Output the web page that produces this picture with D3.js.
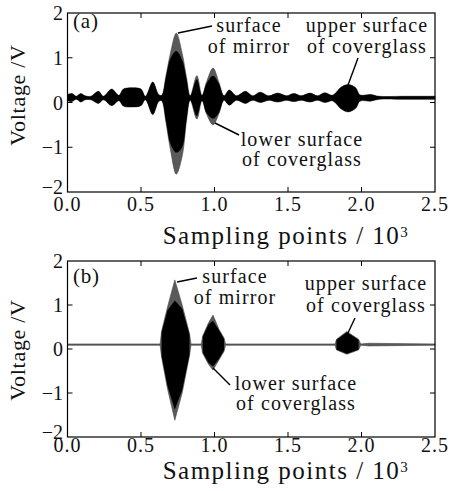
<!DOCTYPE html>
<html>
<head>
<meta charset="utf-8">
<script src="https://d3js.org/d3.v7.min.js"></script>
<style>
  body { margin: 0; background: #fff; }
  svg text { font-family: "Liberation Serif", "DejaVu Serif", serif; fill: #111; }
</style>
</head>
<body>
<div id="chart"></div>
<script>
// envelope of the signal, x in 10^3 sampling points, values in V
const aX      = [0.00, 0.03, 0.06, 0.09, 0.12, 0.16, 0.21, 0.245, 0.30, 0.35, 0.38, 0.44, 0.50, 0.53, 0.58, 0.62, 0.64, 0.67, 0.70, 0.74, 0.78, 0.81, 0.835, 0.88, 0.915, 0.945, 0.99, 1.03, 1.065, 1.10, 1.15, 1.21, 1.26, 1.31, 1.37, 1.43, 1.49, 1.54, 1.59, 1.65, 1.70, 1.75, 1.80, 1.82, 1.86, 1.91, 1.96, 1.99, 2.06, 2.12, 2.30, 2.50];
const aTop    = [0.18, 0.20, 0.14, 0.20, 0.15, 0.14, 0.25, 0.14, 0.30, 0.16, 0.30, 0.33, 0.30, 0.14, 0.46, 0.18, 0.16, 0.60, 1.10, 1.55, 1.10, 0.55, 0.15, 0.60, 0.16, 0.45, 0.77, 0.45, 0.15, 0.28, 0.15, 0.25, 0.15, 0.23, 0.15, 0.21, 0.15, 0.20, 0.15, 0.21, 0.15, 0.22, 0.16, 0.20, 0.34, 0.40, 0.33, 0.17, 0.18, 0.14, 0.14, 0.14];
const aBottom = [0.04, 0.02, 0.07, 0.01, 0.06, 0.06, -0.02, 0.06, -0.07, 0.04, -0.08, -0.10, -0.07, 0.06, -0.27, 0.02, 0.04, -0.45, -1.05, -1.60, -1.20, -0.40, 0.05, -0.37, 0.04, -0.25, -0.50, -0.25, 0.05, -0.06, 0.05, -0.02, 0.05, 0.00, 0.05, 0.01, 0.05, 0.02, 0.05, 0.01, 0.05, 0.00, 0.04, 0.00, -0.14, -0.21, -0.13, 0.03, 0.03, 0.07, 0.07, 0.07];
// dense black core of the big echoes (outside them the core is the envelope itself)
const aCoreX      = [0.64, 0.67, 0.70, 0.74, 0.78, 0.81, 0.835, 0.88, 0.915, 0.945, 0.99, 1.03, 1.065];
const aCoreTop    = [0.16, 0.58, 0.98, 1.15, 0.95, 0.52, 0.15, 0.52, 0.16, 0.42, 0.60, 0.42, 0.15];
const aCoreBottom = [0.04, -0.42, -0.92, -1.12, -1.00, -0.38, 0.05, -0.30, 0.04, -0.23, -0.36, -0.23, 0.05];

const bX      = [0.00, 0.63, 0.64, 0.68, 0.73, 0.78, 0.83, 0.84, 0.91, 0.92, 0.96, 0.99, 1.03, 1.065, 1.075, 1.82, 1.83, 1.90, 1.98, 1.995, 2.05, 2.50];
const bTop    = [0.115, 0.115, 0.40, 0.95, 1.57, 1.00, 0.35, 0.115, 0.115, 0.30, 0.60, 0.77, 0.45, 0.25, 0.115, 0.115, 0.22, 0.40, 0.22, 0.115, 0.13, 0.115];
const bBottom = [0.085, 0.085, -0.18, -0.90, -1.62, -1.00, -0.15, 0.085, 0.085, -0.10, -0.35, -0.48, -0.25, -0.05, 0.085, 0.085, -0.02, -0.12, -0.02, 0.085, 0.07, 0.085];
// null breaks the core between echoes, where the trace is a thin grey line
const bCoreX      = [0.64, 0.68, 0.73, 0.78, 0.83, 0.87, 0.92, 0.96, 0.99, 1.03, 1.065, 1.50, 1.83, 1.90, 1.98];
const bCoreTop    = [0.38, 0.88, 1.10, 0.92, 0.33, null, 0.28, 0.56, 0.64, 0.43, 0.23, null, 0.21, 0.38, 0.21];
const bCoreBottom = [-0.16, -0.84, -1.38, -0.94, -0.13, null, -0.08, -0.32, -0.40, -0.23, -0.03, null, -0.01, -0.11, -0.01];

const xTicks = [0, 0.5, 1.0, 1.5, 2.0, 2.5];
const xTickLabels = ["0.0", "0.5", "1.0", "1.5", "2.0", "2.5"];
const yTicks = [-2, -1, 0, 1, 2];
const yTickLabels = ["\u22122", "\u22121", "0", "1", "2"];

const width = 451, height = 491;

const svg = d3.select("#chart")
    .append("svg")
    .attr("width", width)
    .attr("height", height);

function zip(xs, tops, bottoms) {
    return xs.map((x, i) => ({ x: x, top: tops[i], bottom: bottoms[i] }));
}

function drawPanel(p) {
    const x = d3.scaleLinear().domain([0, 2.5]).range([67.5, 435]);
    const y = d3.scaleLinear().domain([-2, 2]).range([p.bottom, p.top]);

    const g = svg.append("g");

    const area = d3.area()
        .defined(d => d.top != null)
        .x(d => x(d.x))
        .y0(d => y(d.bottom))
        .y1(d => y(d.top))
        .curve(p.curve);

    const outer = zip(p.xs, p.tops, p.bottoms);
    let core = zip(p.coreX, p.coreTop, p.coreBottom);
    if (p.coreFill) {
        // envelope points outside the big echoes are black all the way out
        const lo = d3.min(p.coreX), hi = d3.max(p.coreX);
        core = outer.filter(d => d.x < lo || d.x > hi).concat(core)
            .sort((a, b) => a.x - b.x);
    }

    g.append("path")
        .datum(outer)
        .attr("d", area)
        .attr("fill", "#5a5a5a")
        .attr("stroke", "#444")
        .attr("stroke-width", 0.6);

    g.append("path")
        .datum(core)
        .attr("d", area)
        .attr("fill", "#000");

    // frame
    g.append("rect")
        .attr("x", x(0))
        .attr("y", y(2))
        .attr("width", x(2.5) - x(0))
        .attr("height", y(-2) - y(2))
        .attr("fill", "none")
        .attr("stroke", "#000")
        .attr("stroke-width", 1.2);

    // inward ticks on all sides
    const tl = 5;
    g.selectAll(".xt")
        .data(xTicks.slice(1, -1))
        .enter()
        .append("path")
        .attr("d", d => `M${x(d)},${y(-2)}v${-tl}M${x(d)},${y(2)}v${tl}`)
        .attr("stroke", "#000")
        .attr("stroke-width", 1);
    g.selectAll(".yt")
        .data(yTicks.slice(1, -1))
        .enter()
        .append("path")
        .attr("d", d => `M${x(0)},${y(d)}h${tl}M${x(2.5)},${y(d)}h${-tl}`)
        .attr("stroke", "#000")
        .attr("stroke-width", 1);

    g.selectAll(".xl")
        .data(xTicks)
        .enter()
        .append("text")
        .attr("x", d => x(d))
        .attr("y", p.xLabelY)
        .attr("text-anchor", "middle")
        .style("font-size", "20px")
        .style("letter-spacing", "1px")
        .text((d, i) => xTickLabels[i]);

    g.selectAll(".yl")
        .data(yTicks)
        .enter()
        .append("text")
        .attr("x", 63)
        .attr("y", d => d === -2 ? y(d) - 5 : y(d))
        .attr("dy", "0.35em")
        .attr("text-anchor", "end")
        .style("font-size", "20px")
        .text((d, i) => yTickLabels[i]);

    const title = g.append("text")
        .attr("x", 286)
        .attr("y", p.titleY)
        .attr("text-anchor", "middle")
        .style("font-size", "25px")
        .style("letter-spacing", "1.5px");
    title.append("tspan").text("Sampling points / 10");
    title.append("tspan").attr("dy", "-0.45em").style("font-size", "15px").text("3");

    g.append("text")
        .attr("transform", `translate(25,${p.yLabelY}) rotate(-90)`)
        .attr("text-anchor", "middle")
        .style("font-size", "22px")
        .style("letter-spacing", "0.7px")
        .text("Voltage /V");

    g.append("text")
        .attr("x", 73)
        .attr("y", p.tagY)
        .style("font-size", "21px")
        .style("letter-spacing", "0.8px")
        .text(p.tag);

    p.notes.forEach(n => {
        n.lines.forEach((t, i) => {
            g.append("text")
                .attr("x", n.x)
                .attr("y", n.y + i * n.gap)
                .attr("text-anchor", "middle")
                .style("font-size", "20px")
                .style("letter-spacing", "1.1px")
                .text(t);
        });
        g.append("line")
            .attr("x1", n.from[0]).attr("y1", n.from[1])
            .attr("x2", n.to[0]).attr("y2", n.to[1])
            .attr("stroke", "#000")
            .attr("stroke-width", 1.4);
    });
}

drawPanel({
    top: 13, bottom: 192,
    xs: aX, tops: aTop, bottoms: aBottom,
    coreX: aCoreX, coreTop: aCoreTop, coreBottom: aCoreBottom, coreFill: true,
    curve: d3.curveCatmullRom,
    xLabelY: 211, titleY: 244, yLabelY: 95,
    tag: "(a)", tagY: 28,
    notes: [
        { lines: ["surface", "of mirror"], x: 249, y: 32, gap: 21, from: [178, 33], to: [212, 26] },
        { lines: ["upper surface", "of coverglass"], x: 367, y: 32, gap: 21, from: [358, 58], to: [348, 85] },
        { lines: ["lower surface", "of coverglass"], x: 302, y: 146, gap: 20, from: [215, 123], to: [239, 135] }
    ]
});

drawPanel({
    top: 261, bottom: 437,
    xs: bX, tops: bTop, bottoms: bBottom,
    coreX: bCoreX, coreTop: bCoreTop, coreBottom: bCoreBottom, coreFill: false,
    curve: d3.curveLinear,
    xLabelY: 452, titleY: 479, yLabelY: 350,
    tag: "(b)", tagY: 283,
    notes: [
        { lines: ["surface", "of mirror"], x: 235, y: 283, gap: 21, from: [177, 282], to: [197, 278] },
        { lines: ["upper surface", "of coverglass"], x: 366, y: 290, gap: 22, from: [355, 318], to: [347, 335] },
        { lines: ["lower surface", "of coverglass"], x: 296, y: 390, gap: 20, from: [213, 368], to: [230, 385] }
    ]
});
</script>
</body>
</html>
